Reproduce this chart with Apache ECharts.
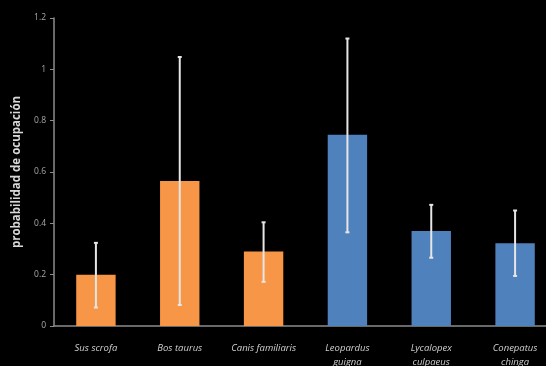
<!DOCTYPE html>
<html>
<head>
<meta charset="utf-8">
<script src="https://cdn.jsdelivr.net/npm/echarts@6/dist/echarts.min.js"></script>
<style>
  html, body { margin: 0; padding: 0; background: #000; }
  #chart { width: 546px; height: 366px; }
</style>
</head>
<body>
<div id="chart"></div>
<script>
// datos
var especies = ['Sus scrofa', 'Bos taurus', 'Canis familiaris', 'Leopardus\nguigna', 'Lycalopex\nculpaeus', 'Conepatus\nchinga'];
var ocupacion = [0.20, 0.565, 0.29, 0.745, 0.37, 0.322];
var errInf = [0.072, 0.082, 0.172, 0.365, 0.266, 0.195];
var errSup = [0.324, 1.048, 0.404, 1.12, 0.472, 0.45];
var grupo = ['dom', 'dom', 'dom', 'nat', 'nat', 'nat'];
var yTicks = [0, 0.2, 0.4, 0.6, 0.8, 1, 1.2];

var colores = { dom: '#F79646', nat: '#4F81BD' };

var myChart = echarts.init(document.getElementById('chart'));

var errData = especies.map(function (e, i) { return [i, errInf[i], errSup[i]]; });

var option = {
    backgroundColor: '#000',
    animation: false,
    grid: { left: 54, right: -11, top: 18, bottom: 40, outerBoundsMode: 'none', containLabel: false },
    xAxis: {
        type: 'category',
        data: especies,
        axisLine: { lineStyle: { color: '#8c8c8c', width: 1.5 } },
        axisTick: { show: false },
        axisLabel: {
            color: '#d0d0d0',
            fontStyle: 'italic',
            fontSize: 9.5,
            fontFamily: 'Open Sans',
            margin: 15,
            lineHeight: 14,
            interval: 0
        }
    },
    yAxis: {
        type: 'value',
        min: 0,
        max: yTicks[yTicks.length - 1],
        interval: 0.2,
        name: 'probabilidad de ocupación',
        nameLocation: 'middle',
        nameGap: 30,
        nameTextStyle: { color: '#d8d8d8', fontSize: 11.5, fontWeight: 'bold', fontFamily: 'Open Sans' },
        axisLine: { show: true, lineStyle: { color: '#8c8c8c', width: 1.5 } },
        axisTick: { show: true, length: 4, lineStyle: { color: '#8c8c8c' } },
        axisLabel: {
            color: '#a8a8a8',
            fontSize: 8.5,
            fontFamily: 'Open Sans',
            margin: 8,
            formatter: function (v) { return String(Math.round(v * 10) / 10); }
        },
        splitLine: { show: false }
    },
    series: [
        {
            type: 'bar',
            barWidth: '47%',
            data: ocupacion,
            itemStyle: {
                color: function (p) { return colores[grupo[p.dataIndex]]; }
            }
        },
        {
            type: 'custom',
            data: errData,
            z: 10,
            renderItem: function (params, api) {
                var x = api.value(0);
                var lo = api.coord([x, api.value(1)]);
                var hi = api.coord([x, api.value(2)]);
                var style = { stroke: '#e6e6e6', lineWidth: 2 };
                return {
                    type: 'group',
                    children: [
                        { type: 'line', shape: { x1: lo[0], y1: lo[1], x2: hi[0], y2: hi[1] }, style: style },
                        { type: 'line', shape: { x1: lo[0] - 2, y1: lo[1], x2: lo[0] + 2, y2: lo[1] }, style: style },
                        { type: 'line', shape: { x1: hi[0] - 2, y1: hi[1], x2: hi[0] + 2, y2: hi[1] }, style: style }
                    ]
                };
            }
        }
    ]
};

myChart.setOption(option);
</script>
</body>
</html>
